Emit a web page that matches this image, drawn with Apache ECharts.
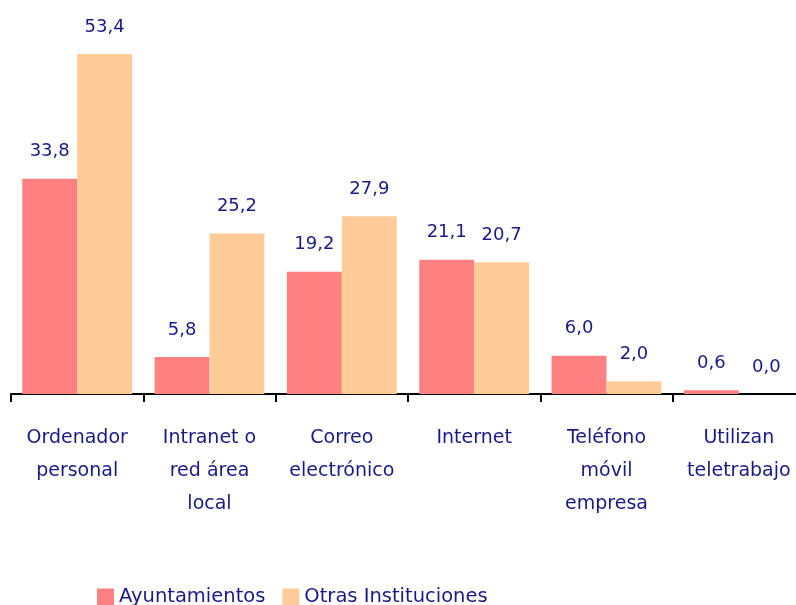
<!DOCTYPE html>
<html>
<head>
<meta charset="utf-8">
<script src="https://cdn.jsdelivr.net/npm/echarts@6/dist/echarts.min.js"></script>
<style>
  html, body { margin: 0; padding: 0; background: #fff; overflow: hidden; }
  /* el eje sigue un poco más allá del borde derecho */
  #main { width: 805px; height: 605px; }
</style>
</head>
<body>
<div id="main"></div>
<script>
var categories = ['Ordenador\npersonal', 'Intranet o\nred área\nlocal', 'Correo\nelectrónico', 'Internet', 'Teléfono\nmóvil\nempresa', 'Utilizan\nteletrabajo'];
var ayuntamientos = [33.8, 5.8, 19.2, 21.1, 6.0, 0.6];
var otras = [53.4, 25.2, 27.9, 20.7, 2.0, 0.0];
var seriesNames = ['Ayuntamientos', 'Otras Instituciones'];

var textColor = '#1a1a86';
var font = 'DejaVu Sans';

var chart = echarts.init(document.getElementById('main'), null, { renderer: 'canvas' });

// etiqueta con coma decimal
function fmt(p) {
  return p.value.toFixed(1).replace('.', ',');
}

var option = {
  animation: false,
  backgroundColor: '#fff',
  textStyle: { fontFamily: font },
  grid: {
    left: 11,
    top: 12,
    right: 0,
    bottom: 211,
    containLabel: false
  },
  legend: {
    left: 97,
    top: 587,
    padding: 0,
    itemWidth: 17,
    itemHeight: 17,
    itemGap: 17,
    icon: 'rect',
    textStyle: { color: textColor, fontSize: 19.5, fontFamily: font },
    data: seriesNames
  },
  xAxis: {
    type: 'category',
    data: categories,
    axisLine: { lineStyle: { color: '#000', width: 2 } },
    axisTick: { show: true, length: 8, lineStyle: { color: '#000', width: 2 } },
    axisLabel: {
      color: textColor,
      fontSize: 19,
      fontFamily: font,
      lineHeight: 33,
      margin: 28,
      interval: 0
    }
  },
  yAxis: {
    type: 'value',
    min: 0,
    max: 60,
    show: false,
    splitLine: { show: false }
  },
  series: [{
    name: seriesNames[0],
    type: 'bar',
    data: ayuntamientos,
    barWidth: '41.5%',
    barGap: '0%',
    itemStyle: { color: '#FF8080' },
    label: {
      show: true,
      position: 'top',
      distance: 18,
      color: textColor,
      fontSize: 18,
      fontFamily: font,
      formatter: fmt
    }
  }, {
    name: seriesNames[1],
    type: 'bar',
    data: otras,
    barWidth: '41.5%',
    itemStyle: { color: '#FFCC99' },
    label: {
      show: true,
      position: 'top',
      distance: 18,
      color: textColor,
      fontSize: 18,
      fontFamily: font,
      formatter: fmt
    }
  }]
};
chart.setOption(option);
</script>
</body>
</html>
